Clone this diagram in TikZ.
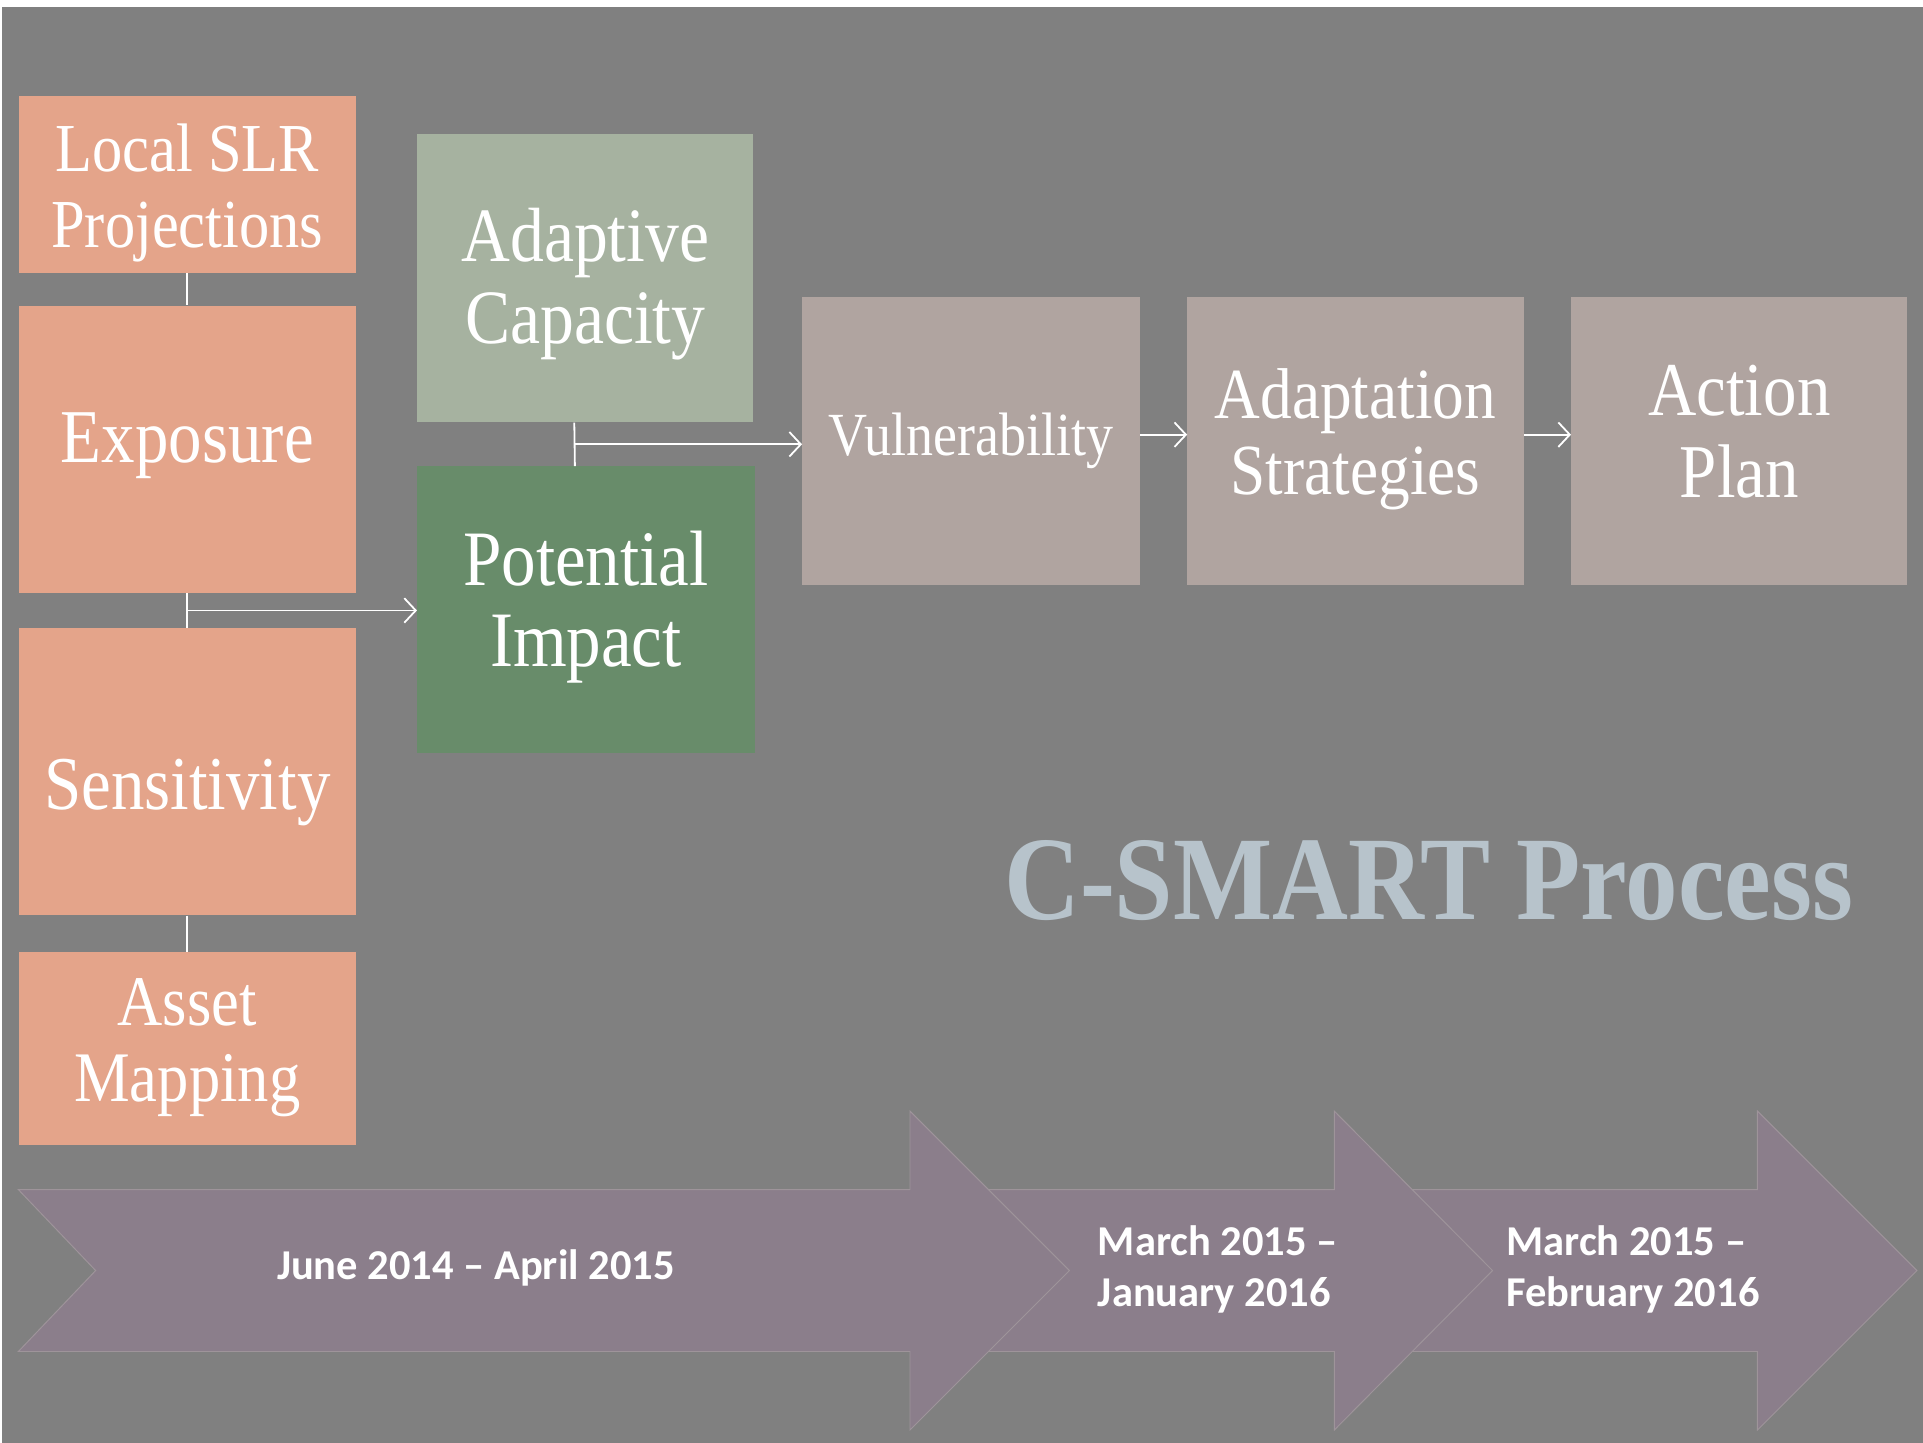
\documentclass[tikz,border=0pt]{standalone}
\usepackage{fontspec}
\usetikzlibrary{arrows.meta,calc}
\newfontfamily\boxfont{Liberation Serif}[FakeStretch=0.88]
\newfontfamily\datefont{Carlito}
\definecolor{bggray}{RGB}{128,128,128}
\definecolor{salmon}{RGB}{228,164,138}
\definecolor{sage}{RGB}{166,178,160}
\definecolor{leaf}{RGB}{104,140,106}
\definecolor{taupe}{RGB}{176,164,160}
\definecolor{chev}{RGB}{139,126,139}
\definecolor{chevedge}{RGB}{158,148,154}
\definecolor{titleblue}{RGB}{183,195,203}
\newcommand\txtshift[2]{\raisebox{#1}[\height][\depth]{\begin{tabular}{@{}c@{}}#2\end{tabular}}}
\tikzset{
  box/.style={anchor=north west, inner sep=0pt, align=center, text=white, font=\boxfont},
  conn/.style={draw=white, line width=1.1pt},
  arr/.style={conn, -{Straight Barb[length=7pt,width=15pt,line width=1.1pt]}},
  chevron/.style={fill=chev, draw=chevedge, line width=0.6pt, line join=miter},
  datetext/.style={text=white, font=\datefont\bfseries\fontsize{26pt}{31.5pt}\selectfont, inner sep=0pt}
}
\begin{document}
\begin{tikzpicture}[x=0.75pt, y=-0.75pt]
\useasboundingbox (0,0) rectangle (1568,1176);
\fill[white] (0,0) rectangle (1568,1176);
\fill[bggray] (2,6) rectangle (1570,1180);

% left column
\node[box, fill=salmon, minimum width=206.25pt, minimum height=108pt,
  font=\boxfont\fontsize{42pt}{46.5pt}\selectfont] (slr) at (15,78) {\txtshift{-6pt}{Local SLR\\Projections}};
\node[box, fill=salmon, minimum width=206.25pt, minimum height=175.5pt,
  font=\boxfont\fontsize{46.5pt}{50pt}\selectfont] (exp) at (15,249) {\txtshift{2pt}{Exposure}};
\node[box, fill=salmon, minimum width=206.25pt, minimum height=175.5pt,
  font=\boxfont\fontsize{46.5pt}{50pt}\selectfont] (sen) at (15,512) {\txtshift{-13pt}{Sensitivity}};
\node[box, fill=salmon, minimum width=206.25pt, minimum height=117.75pt,
  font=\boxfont\fontsize{43.5pt}{46.5pt}\selectfont] (ast) at (15,776) {\txtshift{0pt}{Asset\\Mapping}};

% middle column
\node[box, fill=sage, minimum width=205.5pt, minimum height=176.25pt,
  font=\boxfont\fontsize{47pt}{50pt}\selectfont] (adc) at (340,109) {\txtshift{-5pt}{Adaptive\\Capacity}};
\node[box, fill=leaf, minimum width=206.25pt, minimum height=175.5pt,
  font=\boxfont\fontsize{48pt}{49.5pt}\selectfont] (pot) at (340,380) {\txtshift{0pt}{Potential\\Impact}};

% right row
\node[box, fill=taupe, minimum width=206.25pt, minimum height=176.25pt,
  font=\boxfont\fontsize{37.5pt}{40pt}\selectfont] (vul) at (654,242) {\txtshift{-1pt}{Vulnerability}};
\node[box, fill=taupe, minimum width=205.5pt, minimum height=176.25pt,
  font=\boxfont\fontsize{44pt}{46.5pt}\selectfont] (ads) at (968,242) {\txtshift{0pt}{Adaptation\\Strategies}};
\node[box, fill=taupe, minimum width=205.5pt, minimum height=176.25pt,
  font=\boxfont\fontsize{46.5pt}{50pt}\selectfont] (act) at (1281,242) {\txtshift{0.5pt}{Action\\Plan}};

% connectors
\draw[conn] (slr.south) -- (exp.north);
\draw[conn] (exp.south) -- coordinate (m1) (sen.north);
\draw[arr] (m1) -- (m1 -| pot.west);
\draw[conn] (sen.south) -- (ast.north);
\draw[conn] ([xshift=-6.75pt]adc.south) -- coordinate (m2) ([xshift=-6.75pt]pot.north);
\draw[arr] (m2) -- (m2 -| vul.west);
\draw[arr] ([yshift=4pt]vul.east) -- ([yshift=4pt]ads.west);
\draw[arr] ([yshift=4pt]ads.east) -- ([yshift=4pt]act.west);

% title
\node[text=titleblue, inner sep=0pt, font=\boxfont\bfseries\fontsize{73pt}{78pt}\selectfont] (title) at (1165,718) {C-SMART Process};

% timeline chevrons
\draw[chevron] (1088,970) -- (1433,970) -- (1433,906) -- (1563,1036) -- (1433,1166) -- (1433,1102) -- (1088,1102) -- (1151,1036) -- cycle;
\draw[chevron] (742,970) -- (1088,970) -- (1088,906) -- (1217,1036) -- (1088,1166) -- (1088,1102) -- (742,1102) -- (805,1036) -- cycle;
\draw[chevron] (15,970) -- (742,970) -- (742,906) -- (872,1036) -- (742,1166) -- (742,1102) -- (15,1102) -- (78,1036) -- cycle;

\node[datetext] (d1) at (388,1034) {June 2014 – April 2015};
\node[datetext, anchor=west, align=left] (d2) at (895,1035) {March 2015 –\\January 2016};
\node[datetext, anchor=west, align=left] (d3) at (1228,1035) {March 2015 –\\February 2016};
\end{tikzpicture}
\end{document}
